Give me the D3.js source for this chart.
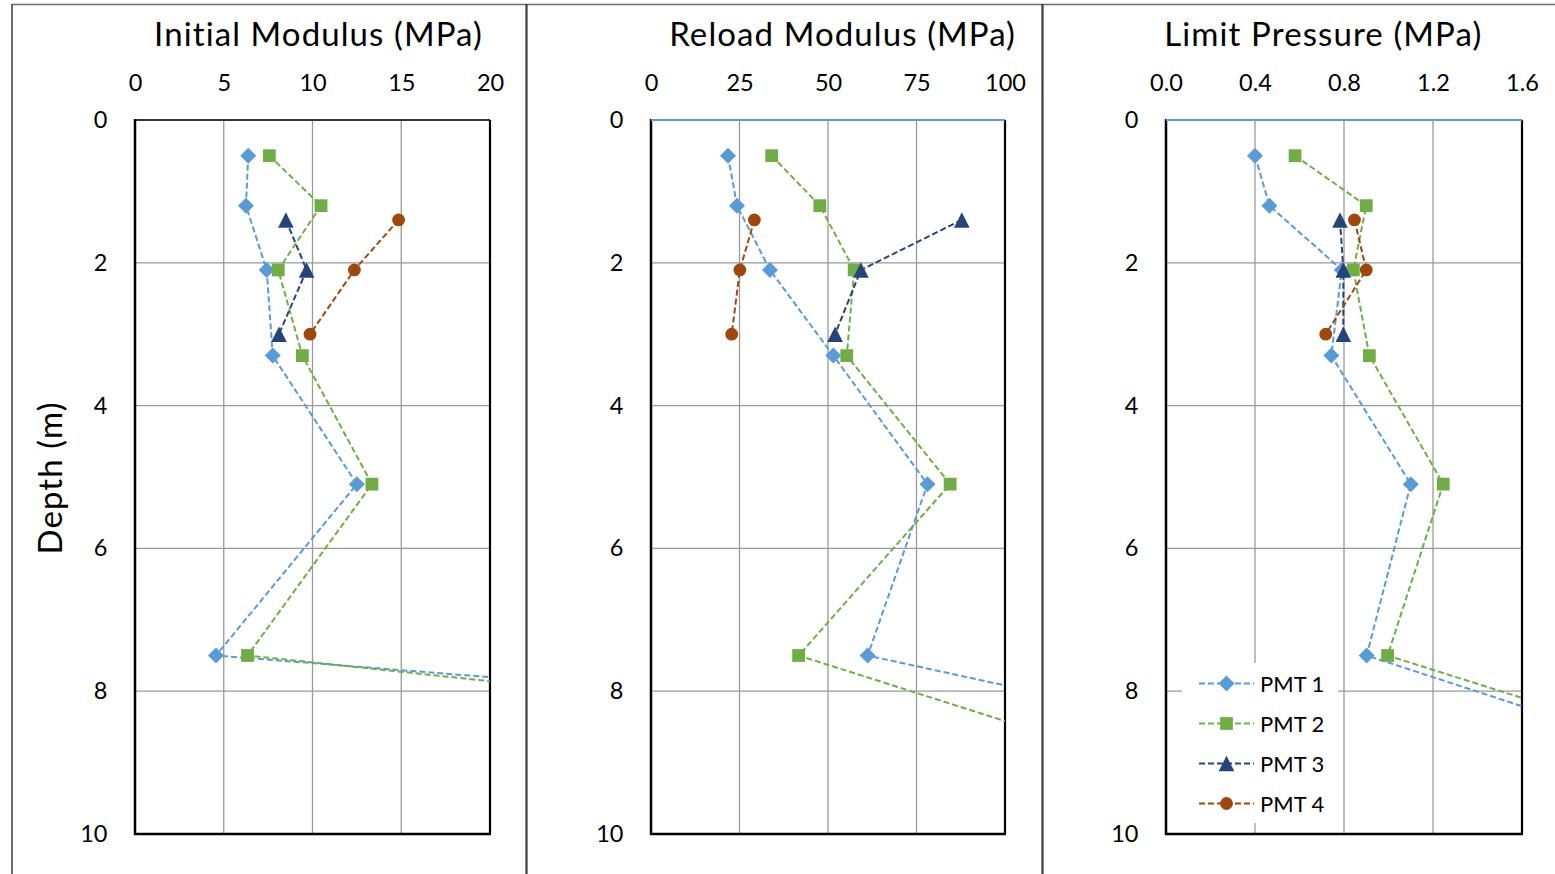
<!DOCTYPE html>
<html><head><meta charset="utf-8">
<script src="https://cdn.jsdelivr.net/npm/d3@7"></script>
<style>
body{margin:0;background:#fff;}
svg{display:block;font-family:Lato,"Open Sans",sans-serif;}
</style></head><body>
<svg id="chart" width="1555" height="874"></svg>
<script>
// ---------- data ----------
const seriesNames = ["PMT 1","PMT 2","PMT 3","PMT 4"];
const depthPMT12 = [0.5, 1.2, 2.1, 3.3, 5.1, 7.5, 8.5];
const depthPMT34 = [1.4, 2.1, 3.0];

const initialPMT1 = [6.38, 6.25, 7.42, 7.76, 12.5, 4.56, 55.4];
const initialPMT2 = [7.57, 10.48, 8.07, 9.43, 13.35, 6.34, 44.3];
const initialPMT3 = [8.5, 9.67, 8.11];
const initialPMT4 = [14.85, 12.36, 9.86];

const reloadPMT1 = [21.75, 24.3, 33.6, 51.5, 78.1, 61.2, 153.6];
const reloadPMT2 = [34.1, 47.7, 57.4, 55.3, 84.5, 41.7, 105.2];
const reloadPMT3 = [87.8, 59.3, 52.0];
const reloadPMT4 = [29.2, 25.1, 22.8];

const limitPMT1 = [0.40, 0.465, 0.79, 0.743, 1.10, 0.902, 1.885];
const limitPMT2 = [0.58, 0.90, 0.842, 0.914, 1.246, 0.996, 2.013];
const limitPMT3 = [0.782, 0.797, 0.797];
const limitPMT4 = [0.847, 0.90, 0.718];

const initialTicks = [0, 5, 10, 15, 20];
const reloadTicks = [0, 25, 50, 75, 100];
const limitTicks = [0, 0.4, 0.8, 1.2, 1.6];
const depthTicks = [0, 2, 4, 6, 8, 10];
const panelTitles = ["Initial Modulus (MPa)", "Reload Modulus (MPa)", "Limit Pressure (MPa)"];
const yAxisTitle = "Depth (m)";
const surfaceDepth = [0, 0];

// ---------- styles / layout ----------
const colors = ["#5B9BD5", "#70AD47", "#264478", "#9E480E"];
const markers = ["diamond", "square", "triangle", "circle"];
const panels = [
  {x0:135, x1:490, dom:[0,20], ticks:initialTicks, fmt:d3.format("d"), title:panelTitles[0], tx:318.5,
   vals:[initialPMT1, initialPMT2, initialPMT3, initialPMT4], topBlue:false},
  {x0:651, x1:1005, dom:[0,100], ticks:reloadTicks, fmt:d3.format("d"), title:panelTitles[1], tx:842.6,
   vals:[reloadPMT1, reloadPMT2, reloadPMT3, reloadPMT4], topBlue:true},
  {x0:1166, x1:1522, dom:[0,1.6], ticks:limitTicks, fmt:d3.format(".1f"), title:panelTitles[2], tx:1323.3,
   vals:[limitPMT1, limitPMT2, limitPMT3, limitPMT4], topBlue:true}
];
const yTop = 120, yBot = 834;
const svg = d3.select("#chart");
const y = d3.scaleLinear().domain([0,10]).range([yTop, yBot]);

function markerPath(type){
  const p = d3.path();
  if(type==="diamond"){ const r=8; p.moveTo(0,-r);p.lineTo(r,0);p.lineTo(0,r);p.lineTo(-r,0);p.closePath(); }
  else if(type==="square"){ const r=6.4; p.rect(-r,-r,2*r,2*r); }
  else if(type==="triangle"){ const r=7.8; p.moveTo(0,-r);p.lineTo(r,r);p.lineTo(-r,r);p.closePath(); }
  else { p.arc(0,0,6.4,0,2*Math.PI); }
  return p.toString();
}

// outer frames
const frame = svg.append("g").attr("stroke","#3a3a3a").attr("fill","none");
frame.append("line").attr("x1",12).attr("x2",1555).attr("y1",4.5).attr("y2",4.5).attr("stroke","#6e6e6e").attr("stroke-width",1.5);
frame.append("line").attr("x1",12).attr("x2",12).attr("y1",4).attr("y2",874).attr("stroke-width",1.5);
frame.append("line").attr("x1",526.5).attr("x2",526.5).attr("y1",4).attr("y2",874).attr("stroke-width",2.2);
frame.append("line").attr("x1",1042.5).attr("x2",1042.5).attr("y1",4).attr("y2",874).attr("stroke-width",2.2);

panels.forEach((pn, pi) => {
  const x = d3.scaleLinear().domain(pn.dom).range([pn.x0, pn.x1]);
  const g = svg.append("g");
  const clipId = "clip"+pi;
  svg.append("clipPath").attr("id",clipId).append("rect")
    .attr("x",pn.x0).attr("y",yTop).attr("width",pn.x1-pn.x0).attr("height",yBot-yTop);

  // gridlines
  g.append("g").selectAll("line").data(pn.ticks.slice(1,-1)).join("line")
    .attr("x1",d=>x(d)).attr("x2",d=>x(d)).attr("y1",yTop).attr("y2",yBot)
    .attr("stroke","#9a9a9a").attr("stroke-width",1.3);
  g.append("g").selectAll("line").data(depthTicks.slice(1,-1)).join("line")
    .attr("x1",pn.x0).attr("x2",pn.x1).attr("y1",d=>y(d)).attr("y2",d=>y(d))
    .attr("stroke","#9a9a9a").attr("stroke-width",1.3);

  // top axis (x)
  const ax = g.append("g").attr("transform",`translate(0,${yTop})`)
    .call(d3.axisTop(x).tickValues(pn.ticks).tickFormat(pn.fmt).tickSize(0).tickPadding(29.5));
  ax.select(".domain").remove();
  ax.selectAll("text").attr("font-size",23.5).attr("font-family","Lato").attr("fill","#000");

  // left axis (y)
  const ay = g.append("g").attr("transform",`translate(${pn.x0},0)`)
    .call(d3.axisLeft(y).tickValues(depthTicks).tickFormat(d3.format("d")).tickSize(0).tickPadding(27.5));
  ay.select(".domain").remove();
  ay.selectAll("text").attr("font-size",23.5).attr("font-family","Lato").attr("fill","#000");

  // plot borders
  g.append("line").attr("x1",pn.x0).attr("x2",pn.x1).attr("y1",yTop).attr("y2",yTop).attr("stroke","#333").attr("stroke-width",2);
  g.append("line").attr("x1",pn.x1).attr("x2",pn.x1).attr("y1",yTop).attr("y2",yBot).attr("stroke","#000").attr("stroke-width",2.2);
  g.append("line").attr("x1",pn.x0-1).attr("x2",pn.x1+1).attr("y1",yBot).attr("y2",yBot).attr("stroke","#000").attr("stroke-width",2.5);
  g.append("line").attr("x1",pn.x0).attr("x2",pn.x0).attr("y1",yTop-1).attr("y2",yBot+1).attr("stroke","#000").attr("stroke-width",2.5);

  // surface line at depth 0 (blue) in panels 2,3
  if(pn.topBlue){
    g.append("path").datum(pn.dom.map((v,i)=>[v, surfaceDepth[i]]))
      .attr("d", d3.line().x(d=>x(d[0])).y(d=>y(d[1])))
      .attr("stroke",colors[0]).attr("stroke-width",2.2).attr("fill","none");
  }

  // title
  g.append("text").attr("x",pn.tx).attr("y",46).attr("text-anchor","middle")
    .attr("font-size",33).attr("letter-spacing",1.1).attr("fill","#000").text(pn.title);

  // series
  const sg = g.append("g").attr("clip-path",`url(#${clipId})`);
  pn.vals.forEach((vals, si) => {
    const depths = si < 2 ? depthPMT12 : depthPMT34;
    const pts = vals.map((v,i)=>[v, depths[i]]);
    sg.append("path").datum(pts)
      .attr("d", d3.line().x(d=>x(d[0])).y(d=>y(d[1])))
      .attr("fill","none").attr("stroke",colors[si]).attr("stroke-width",2)
      .attr("stroke-dasharray","6,3");
    sg.append("g").selectAll("path").data(pts.filter(d=>d[0]>=pn.dom[0] && d[0]<=pn.dom[1])).join("path")
      .attr("transform",d=>`translate(${x(d[0])},${y(d[1])})`)
      .attr("d", markerPath(markers[si])).attr("fill",colors[si]);
  });
});

// y axis title
svg.append("text").attr("transform","translate(62,478) rotate(-90)")
  .attr("text-anchor","middle").attr("font-size",33).attr("letter-spacing",1.1).attr("fill","#000").text(yAxisTitle);

// legend
const lg = svg.append("g");
lg.append("rect").attr("x",1182).attr("y",663).attr("width",156).attr("height",160).attr("fill","#fff");
seriesNames.forEach((name, i) => {
  const cy = 683.5 + 40*i;
  lg.append("line").attr("x1",1199).attr("x2",1254).attr("y1",cy).attr("y2",cy)
    .attr("stroke",colors[i]).attr("stroke-width",2).attr("stroke-dasharray","6,3");
  lg.append("path").attr("transform",`translate(1226.5,${cy})`).attr("d",markerPath(markers[i])).attr("fill",colors[i]);
  lg.append("text").attr("x",1260).attr("y",cy+8).attr("font-size",22).attr("fill","#000").text(name);
});
</script>
</body></html>
